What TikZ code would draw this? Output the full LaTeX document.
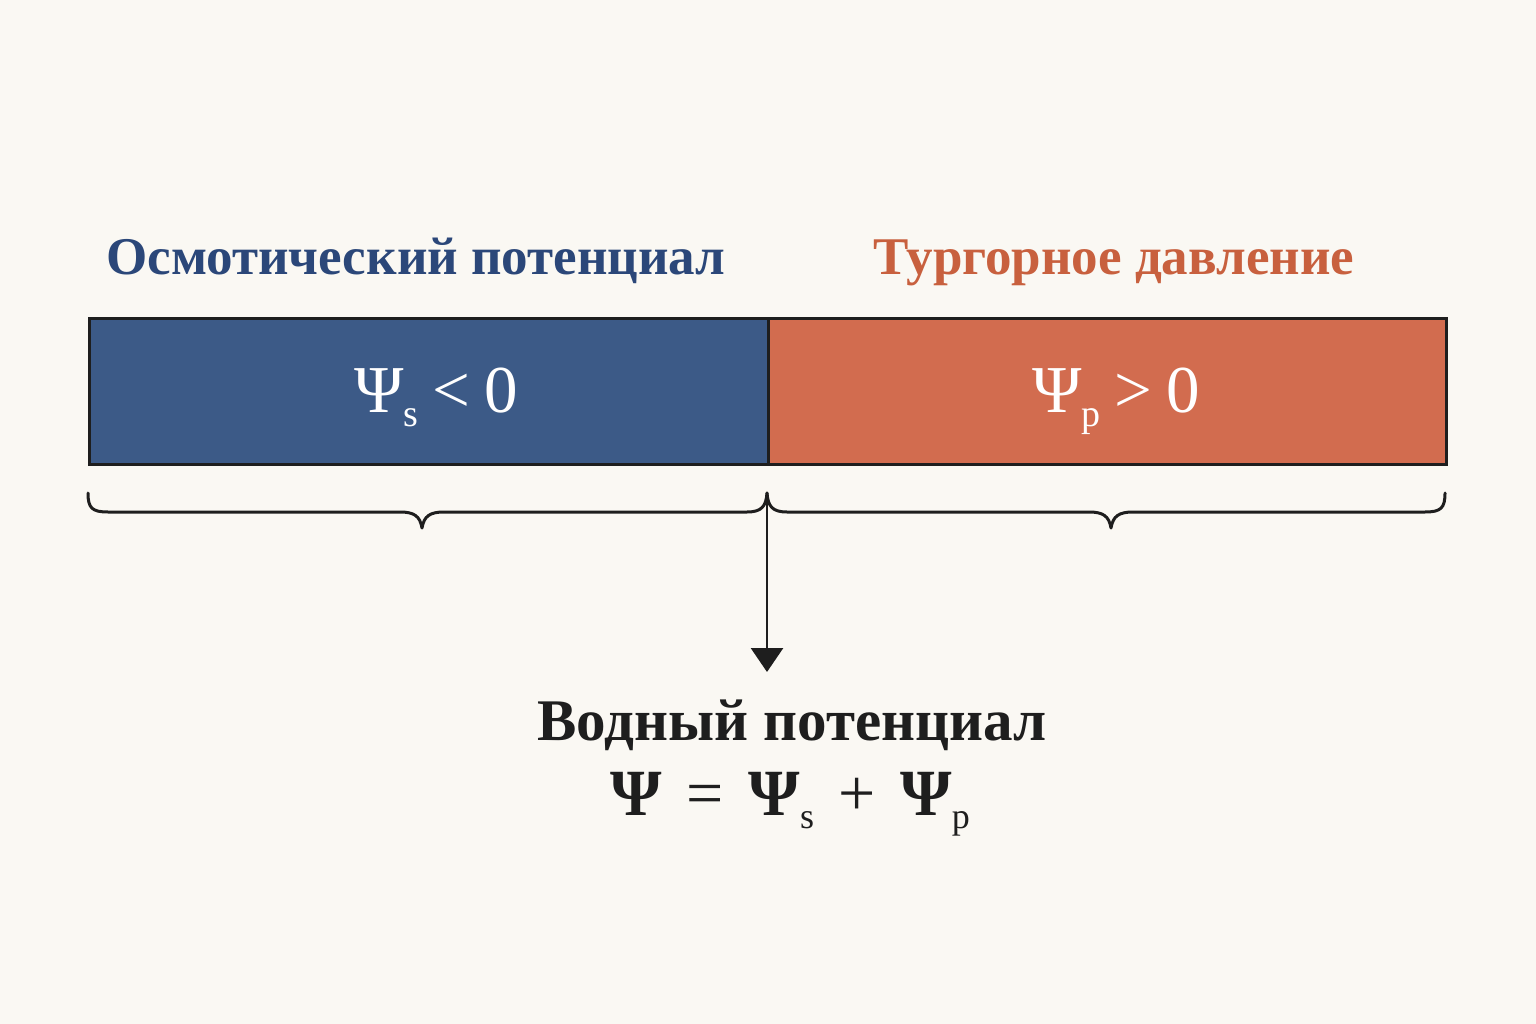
\documentclass[tikz,border=0pt]{standalone}
\usepackage{fontspec}
\setmainfont{Liberation Serif}
\usetikzlibrary{arrows.meta}
\definecolor{bgc}{HTML}{FAF8F3}
\definecolor{blueF}{HTML}{3C5A87}
\definecolor{orangeF}{HTML}{D26C4F}
\definecolor{blueT}{HTML}{2B4779}
\definecolor{orangeT}{HTML}{C8603E}
\definecolor{inkc}{HTML}{1E1E1E}
\newcommand{\subsc}[1]{\raisebox{-14pt}{\fontsize{38}{40}\selectfont #1}}
\newcommand{\subsf}[1]{\raisebox{-13pt}{\fontsize{36}{40}\selectfont #1}}
\begin{document}
\begin{tikzpicture}[x=1pt,y=-1pt,
  barbox/.style={draw=inkc,line width=3pt,minimum height=146pt,inner sep=0pt},
  heading/.style={font=\fontsize{53}{58}\selectfont\bfseries,inner sep=0pt,anchor=base},
  barlabel/.style={text=white,font=\fontsize{67}{72}\selectfont,inner sep=0pt,anchor=base},
  bracestyle/.style={draw=inkc,line width=3pt,line cap=round,line join=round},
  arrowstyle/.style={draw=inkc,line width=2.8pt,-{Triangle[length=24pt,width=32pt]}}]
\fill[bgc] (0,0) rectangle (1536,1024);
\useasboundingbox (0,0) rectangle (1536,1024);
% bars
\node[barbox,fill=blueF,minimum width=679pt,anchor=north west] (left) at (88,317) {};
\node[barbox,fill=orangeF,minimum width=678pt,anchor=north west] (right) at (767,317) {};
% headings
\node[heading,text=blueT] (hleft) at (416,275) {Осмотический потенциал};
\node[heading,text=orangeT] (hright) at (1114,275) {Тургорное давление};
% bar labels
\node[barlabel] (lleft) at (436,412) {Ψ\subsc{s}\hspace{14pt}<\hspace{14pt}0};
\node[barlabel] (lright) at (1116,412) {Ψ\subsc{p}\hspace{14pt}>\hspace{14pt}0};
% braces
\coordinate (split) at (767,493);
\draw[bracestyle] (88,493) .. controls (88,508) and (92,512) .. (108,512) -- (400,512)
  .. controls (414,512) and (420,516) .. (422,528)
  .. controls (424,516) and (430,512) .. (444,512) -- (747,512)
  .. controls (762,512) and (766,506) .. (split);
\draw[bracestyle] (split) .. controls (768,506) and (772,512) .. (787,512) -- (1089,512)
  .. controls (1103,512) and (1109,516) .. (1111,528)
  .. controls (1113,516) and (1119,512) .. (1133,512) -- (1425,512)
  .. controls (1441,512) and (1445,508) .. (1445,493);
% result
\node[font=\fontsize{59}{64}\selectfont\bfseries,text=inkc,inner sep=0pt,anchor=base] (res) at (792,740) {Водный потенциал};
\node[font=\fontsize{66}{70}\selectfont,text=inkc,inner sep=0pt,anchor=base] (form) at (790,815)
  {\textbf{Ψ}\hspace{25pt}=\hspace{25pt}\textbf{Ψ}\subsf{s}\hspace{24pt}+\hspace{25pt}\textbf{Ψ}\subsf{p}};
\coordinate (arrowend) at (767,672);
\draw[arrowstyle] (split) -- (arrowend);
\end{tikzpicture}
\end{document}
